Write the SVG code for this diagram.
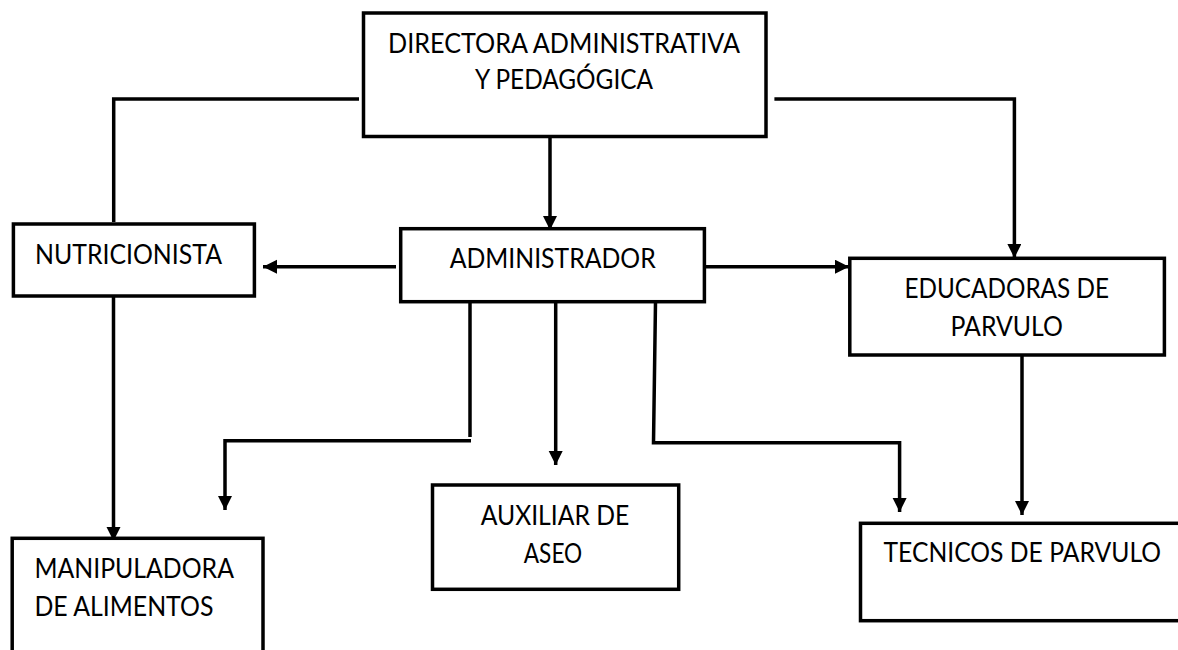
<svg xmlns="http://www.w3.org/2000/svg" width="1178" height="650" viewBox="0 0 1178 650">
<style>
.box{fill:#fff;stroke:#000;stroke-width:3.5}
.t{font-family:Lato,"Liberation Sans",sans-serif;font-size:27px;fill:#000}
.m{text-anchor:middle}
.c{fill:none;stroke:#000;stroke-width:3.5}
</style>
<defs>
<marker id="ah" markerUnits="userSpaceOnUse" markerWidth="15" markerHeight="15" refX="14" refY="7" orient="auto">
<path d="M0,0 L14,7 L0,14 z" fill="#000"/>
</marker>
</defs>
<g id="connectors">
<path class="c" d="M359,99 H113.7 V222"/>
<path class="c" d="M774.4,99 H1014.4 V258" marker-end="url(#ah)"/>
<path class="c" d="M550,137 V230" marker-end="url(#ah)"/>
<path class="c" d="M396,266.7 H263" marker-end="url(#ah)"/>
<path class="c" d="M706,266.7 H849" marker-end="url(#ah)"/>
<path class="c" d="M113.5,297 V541" marker-end="url(#ah)"/>
<path class="c" d="M470,302 V437"/>
<path class="c" d="M471,440.7 H225 V510" marker-end="url(#ah)"/>
<path class="c" d="M555.7,302 V465" marker-end="url(#ah)"/>
<path class="c" d="M655.5,302 L653.5,442.7 H899.6 V512" marker-end="url(#ah)"/>
<path class="c" d="M1022,355 V515" marker-end="url(#ah)"/>
</g>
<g id="directora">
<rect class="box" x="363.5" y="13" width="402.5" height="123.5"/>
<text class="t m" x="564" y="53" textLength="352" lengthAdjust="spacingAndGlyphs">DIRECTORA ADMINISTRATIVA</text>
<text class="t m" x="564" y="88.5" textLength="178" lengthAdjust="spacingAndGlyphs">Y PEDAGÓGICA</text>
</g>
<g id="nutricionista">
<rect class="box" x="13.4" y="224" width="241" height="72"/>
<text class="t" x="35" y="264" textLength="187" lengthAdjust="spacingAndGlyphs">NUTRICIONISTA</text>
</g>
<g id="administrador">
<rect class="box" x="400.7" y="228.7" width="303.7" height="73"/>
<text class="t m" x="552.7" y="268" textLength="206" lengthAdjust="spacingAndGlyphs">ADMINISTRADOR</text>
</g>
<g id="educadoras">
<rect class="box" x="849.8" y="258.3" width="314.6" height="96.7"/>
<text class="t m" x="1006.7" y="297.7" textLength="204.5" lengthAdjust="spacingAndGlyphs">EDUCADORAS DE</text>
<text class="t m" x="1006.7" y="336" textLength="112.5" lengthAdjust="spacingAndGlyphs">PARVULO</text>
</g>
<g id="manipuladora">
<rect class="box" x="12.2" y="538.3" width="250.8" height="140"/>
<text class="t" x="34.4" y="578.3" textLength="199.6" lengthAdjust="spacingAndGlyphs">MANIPULADORA</text>
<text class="t" x="34.4" y="616" textLength="179" lengthAdjust="spacingAndGlyphs">DE ALIMENTOS</text>
</g>
<g id="auxiliar">
<rect class="box" x="432.5" y="485" width="246.2" height="104.3"/>
<text class="t m" x="555" y="525" textLength="148.7" lengthAdjust="spacingAndGlyphs">AUXILIAR DE</text>
<text class="t m" x="553" y="563" textLength="58.5" lengthAdjust="spacingAndGlyphs">ASEO</text>
</g>
<g id="tecnicos">
<rect class="box" x="860.5" y="523.3" width="340" height="97.4"/>
<text class="t" x="883.5" y="561.7" textLength="277.5" lengthAdjust="spacingAndGlyphs">TECNICOS DE PARVULO</text>
</g>
</svg>
